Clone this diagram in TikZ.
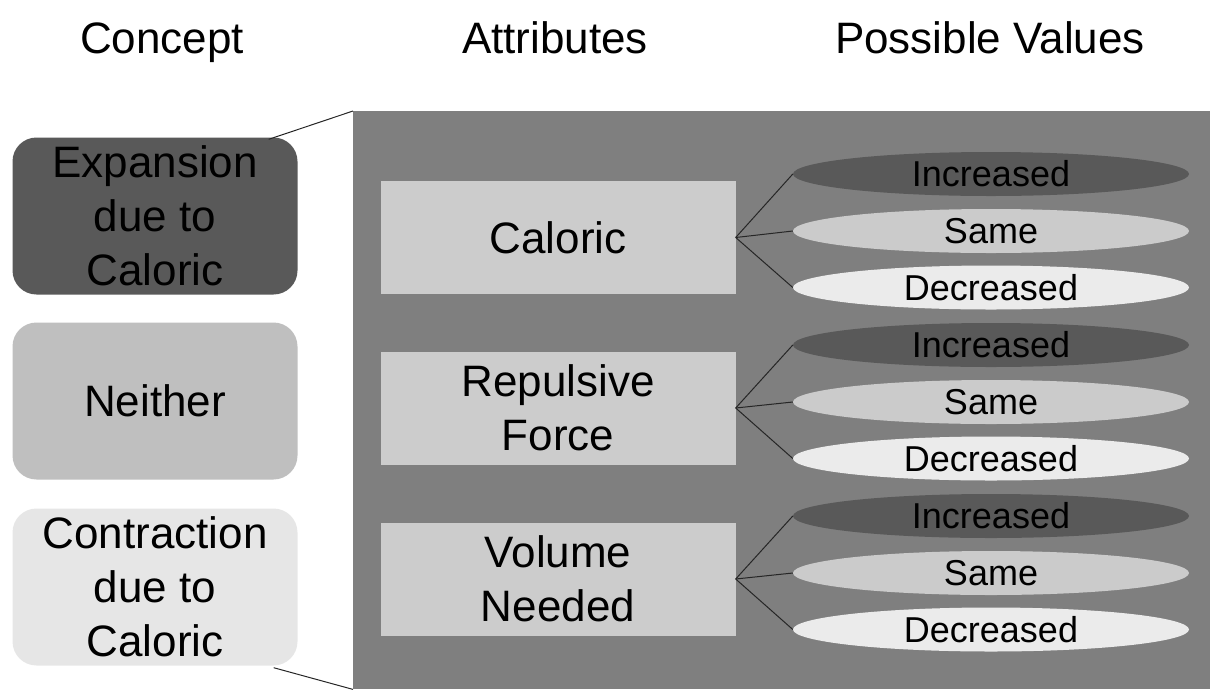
\documentclass[tikz,border=0pt]{standalone}
\usepackage{fontspec}
\setmainfont{Liberation Sans}
\usetikzlibrary{shapes.geometric,calc}

\definecolor{panelgray}{HTML}{7F7F7F}
\definecolor{darkfill}{HTML}{595959}
\definecolor{midfill}{HTML}{BFBFBF}
\definecolor{lightfill}{HTML}{E6E6E6}
\definecolor{attrfill}{HTML}{CCCCCC}
\definecolor{samefill}{HTML}{CBCBCB}
\definecolor{decfill}{HTML}{EBEBEB}

\tikzset{
  bigtext/.style={font=\fontsize{44}{54}\selectfont, align=center},
  header/.style={bigtext, inner sep=0pt, anchor=base},
  concept/.style={bigtext, rounded corners=24pt, minimum width=285pt, minimum height=157pt, inner sep=0pt},
  attr/.style={bigtext, fill=attrfill, minimum width=355pt, minimum height=113pt, inner sep=0pt},
  valueoval/.style={ellipse, minimum width=396pt, minimum height=44pt, inner sep=0pt,
    font=\fontsize{36}{40}\selectfont},
  incr/.style={valueoval, fill=darkfill},
  same/.style={valueoval, fill=samefill},
  decr/.style={valueoval, fill=decfill},
  link/.style={draw=black!85, line width=1pt},
}

\begin{document}
\begin{tikzpicture}[x=1pt, y=-1pt]
  \useasboundingbox (0,0) rectangle (1210,689);

  % column headings
  \node[header] (hconcept) at (162,53) {Concept};
  \node[header] (hattr) at (555,53) {Attributes};
  \node[header] (hvalues) at (990,53) {Possible Values};

  % attribute panel
  \node[fill=panelgray, minimum width=857pt, minimum height=578pt, inner sep=0pt, anchor=north west]
    (panel) at (353,111) {};

  % concepts
  \node[concept, fill=darkfill] (exp) at (155,216) {Expansion\\due to\\Caloric};
  \node[concept, fill=midfill] (nei) at (155,401) {Neither};
  \node[concept, fill=lightfill] (con) at (155,587) {Contraction\\due to\\Caloric};

  % zoom lines from the outer concepts to the panel corners
  \draw[link] ($(exp.north east)+(-29,2)$) -- (panel.north west);
  \draw[link] ($(con.south east)+(-24,2)$) -- (panel.south west);

  % attributes
  \node[attr] (cal) at (558,237.5) {Caloric};
  \node[attr] (rep) at (558,408) {Repulsive\\Force};
  \node[attr] (vol) at (558,579) {Volume\\Needed};

  % possible values
  \foreach \a/\y in {cal/174, rep/345, vol/516} {
    \node[incr] (\a-inc) at (991,\y) {Increased};
    \node[same] (\a-same) at (991,\y+57) {Same};
    \node[decr] (\a-dec) at (991,\y+113.5) {Decreased};
    \draw[link] (\a.east) -- (\a-inc.west);
    \draw[link] (\a.east) -- (\a-same.west);
    \draw[link] (\a.east) -- (\a-dec.west);
  }
\end{tikzpicture}
\end{document}
